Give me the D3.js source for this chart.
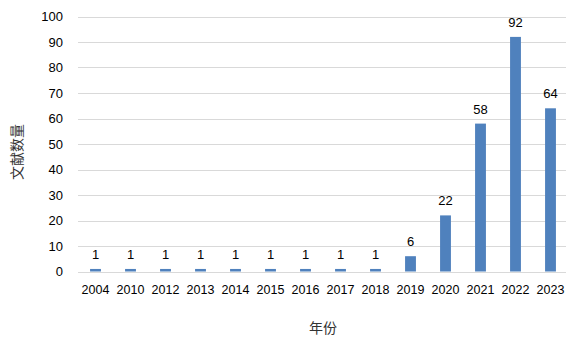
<!DOCTYPE html>
<html><head><meta charset="utf-8">
<script src="https://cdn.jsdelivr.net/npm/d3@7"></script>
<style>body{margin:0;background:#fff}svg{display:block}</style>
</head><body>
<svg id="c" width="578" height="343"></svg>
<script>
const years = ["2004","2010","2012","2013","2014","2015","2016","2017","2018","2019","2020","2021","2022","2023"];
const counts = [1,1,1,1,1,1,1,1,1,6,22,58,92,64];
const yTicks = [0,10,20,30,40,50,60,70,80,90,100];
const xTitle = "年份";
const yTitle = "文献数量";

const svg = d3.select("#c");
const m = {l:78, r:566, t:16.5, b:271.5};
const font = "'Liberation Sans', Arial, sans-serif";
const x = d3.scaleBand().domain(years).range([m.l, m.l + 35*years.length]).paddingInner(0.69).paddingOuter(0.345);
const y = d3.scaleLinear().domain([0,100]).range([m.b, m.t]);

const grid = svg.append("g");
grid.selectAll("line").data(yTicks).join("line")
  .attr("x1", m.l).attr("x2", m.r)
  .attr("y1", d => Math.round(y(d))+0.5).attr("y2", d => Math.round(y(d))+0.5)
  .attr("stroke", "#d9d9d9").attr("stroke-width", 1);

const yAxis = svg.append("g").attr("transform", `translate(${m.l},0)`)
  .call(d3.axisLeft(y).tickValues(yTicks).tickSize(0).tickPadding(15));
yAxis.select(".domain").remove();
yAxis.selectAll("text").attr("font-family", font).attr("font-size", 13).attr("fill", "#000");

const xAxis = svg.append("g").attr("transform", `translate(0,${m.b})`)
  .call(d3.axisBottom(x).tickSize(0).tickPadding(14));
xAxis.select(".domain").remove();
xAxis.selectAll("text").attr("font-family", font).attr("font-size", 12.5).attr("fill", "#000");

svg.append("g").selectAll("rect").data(years).join("rect")
  .attr("x", d => x(d)).attr("width", x.bandwidth())
  .attr("y", (d,i) => y(counts[i])).attr("height", (d,i) => y(0) - y(counts[i]))
  .attr("fill", "#4f81bd");

svg.append("g").selectAll("text").data(years).join("text")
  .attr("x", d => x(d) + x.bandwidth()/2)
  .attr("y", (d,i) => y(counts[i]) - 10)
  .attr("text-anchor", "middle")
  .attr("font-family", font).attr("font-size", 13).attr("fill", "#000")
  .text((d,i) => counts[i]);

svg.append("text").attr("x", 323).attr("y", 333).attr("text-anchor", "middle")
  .attr("font-family", "'Noto Sans CJK SC', sans-serif").attr("font-size", 14).attr("fill", "#333")
  .text(xTitle);
svg.append("text").attr("transform", "translate(22,152) rotate(-90)").attr("text-anchor", "middle")
  .attr("font-family", "'Noto Sans CJK SC', sans-serif").attr("font-size", 14).attr("fill", "#333")
  .text(yTitle);
</script>
</body></html>
